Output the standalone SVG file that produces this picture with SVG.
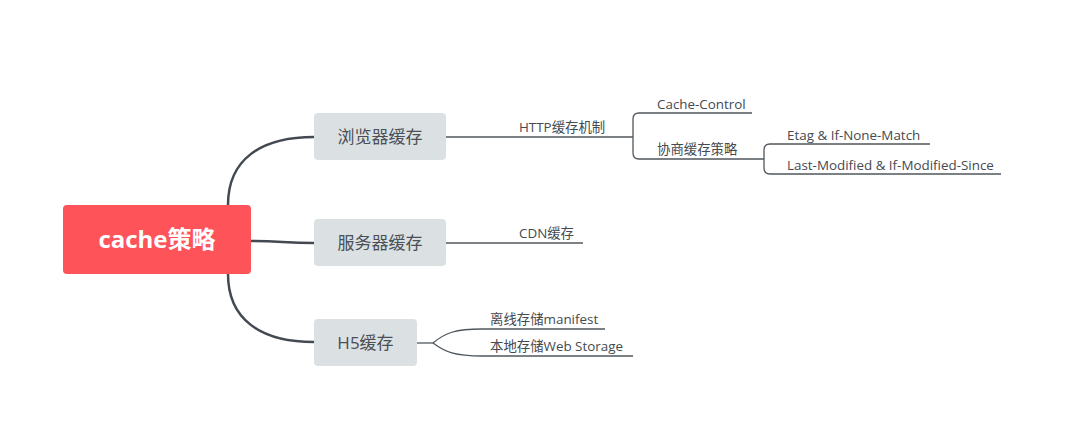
<svg xmlns="http://www.w3.org/2000/svg" width="1072" height="439" viewBox="0 0 1072 439">
<style>
.main{fill:none;stroke:#424950;stroke-width:2.5;stroke-linecap:round}
.sub{fill:none;stroke:#50575e;stroke-width:1.3}
.n1{fill:#dbe1e3}
.t1{font-family:"Open Sans","Noto Sans CJK SC",sans-serif;font-size:17px;fill:#4a4f55;text-anchor:middle}
.t2{font-family:"Open Sans","Noto Sans CJK SC",sans-serif;font-size:13.4px;fill:#444a50}
</style>
<rect width="1072" height="439" fill="#ffffff"/>
<g id="connectors">
<path class="main" d="M228,205 C228,160 260,137 314,137"/>
<path class="main" d="M251,241 C280,241 285,243 314,243"/>
<path class="main" d="M228,274 C228,319 260,342 314,342"/>
<path class="sub" d="M446,137 H633"/>
<path class="sub" d="M633,137 V119 Q633,113 639,113 H752"/>
<path class="sub" d="M633,137 V153 Q633,159 639,159 H764"/>
<path class="sub" d="M764,159 V150 Q764,144 770,144 H930"/>
<path class="sub" d="M764,159 V168 Q764,174 770,174 H1001"/>
<path class="sub" d="M446,243 H583"/>
<path class="sub" d="M417,343 H433"/>
<path class="sub" d="M433,343 C445,333 455,329 482,329 H605"/>
<path class="sub" d="M433,343 C445,352 455,356 482,356 H633"/>
</g>
<g id="root">
<rect x="63" y="205" width="188" height="69" rx="4" fill="#ff535a"/>
<text x="157" y="248" font-family="'Open Sans','Noto Sans CJK SC',sans-serif" font-size="24" font-weight="bold" fill="#ffffff" text-anchor="middle">cache策略</text>
</g>
<g id="browser">
<rect class="n1" x="314" y="113" width="132" height="47" rx="4"/>
<text class="t1" x="380" y="143">浏览器缓存</text>
</g>
<g id="server">
<rect class="n1" x="314" y="219" width="132" height="47" rx="4"/>
<text class="t1" x="380" y="249">服务器缓存</text>
</g>
<g id="h5">
<rect class="n1" x="314" y="319" width="103" height="47" rx="4"/>
<text class="t1" x="365.5" y="349">H5缓存</text>
</g>
<g id="http">
<text class="t2" x="519" y="132">HTTP缓存机制</text>
</g>
<g id="cache-control">
<text class="t2" x="657" y="109">Cache-Control</text>
</g>
<g id="negotiate">
<text class="t2" x="657" y="154">协商缓存策略</text>
</g>
<g id="etag">
<text class="t2" x="787" y="140">Etag &amp; If-None-Match</text>
</g>
<g id="last-modified">
<text class="t2" x="787" y="170">Last-Modified &amp; If-Modified-Since</text>
</g>
<g id="cdn">
<text class="t2" x="519" y="238">CDN缓存</text>
</g>
<g id="manifest">
<text class="t2" x="490" y="324">离线存储manifest</text>
</g>
<g id="webstorage">
<text class="t2" x="490" y="351">本地存储Web Storage</text>
</g>
</svg>
